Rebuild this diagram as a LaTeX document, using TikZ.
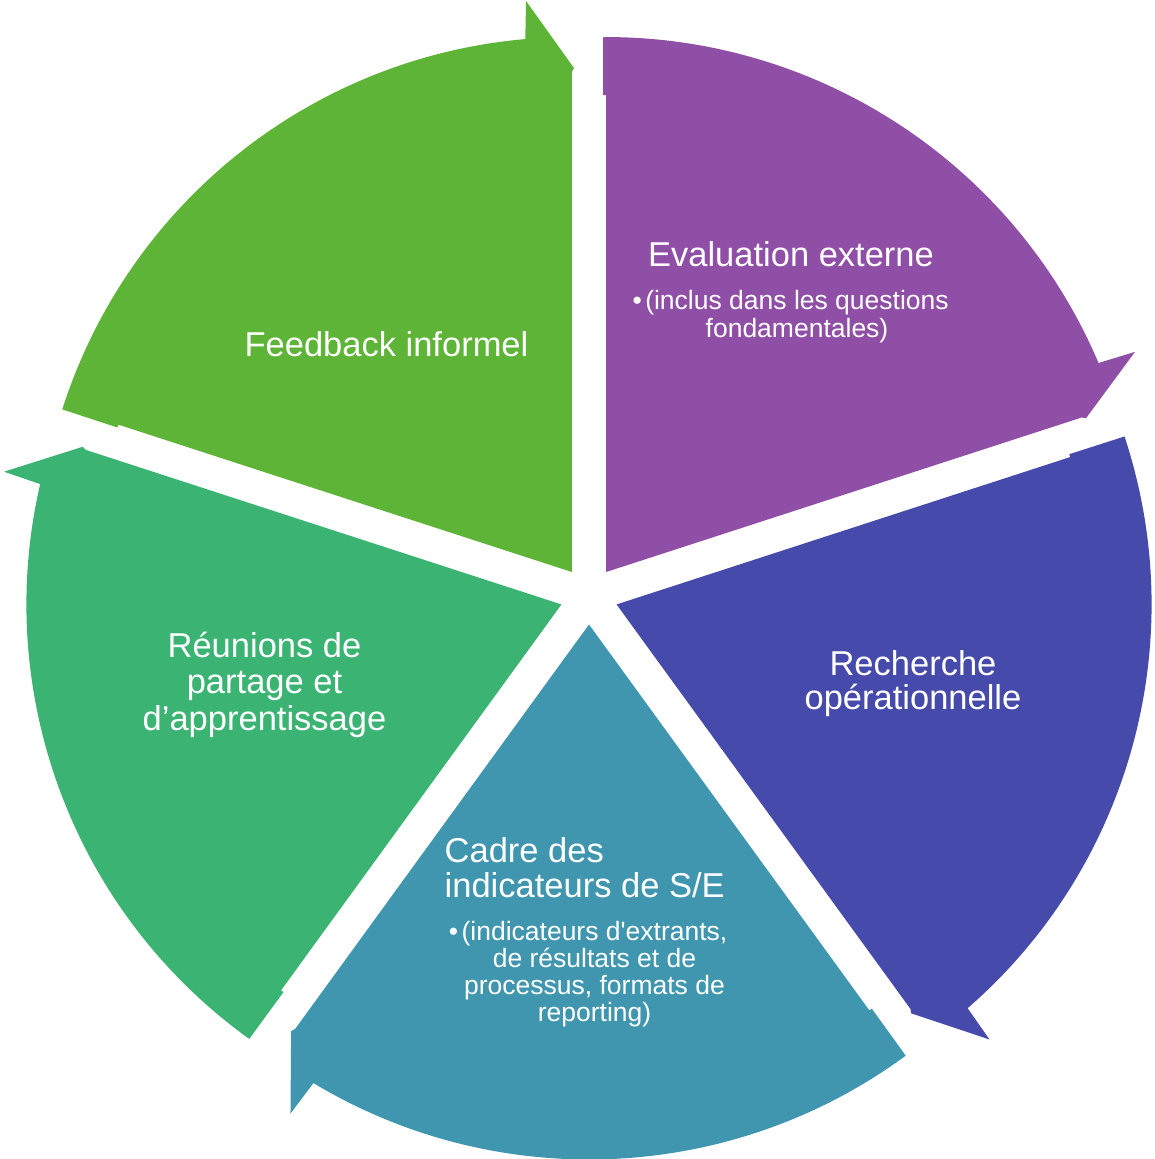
\documentclass[tikz,border=0pt]{standalone}
\usepackage{fontspec}
\setmainfont{Liberation Sans}[Ligatures=TeXOff]
\usetikzlibrary{calc}
\definecolor{cpurple}{HTML}{904FA6}
\definecolor{cindigo}{HTML}{464AAA}
\definecolor{cteal}{HTML}{4096AF}
\definecolor{creun}{HTML}{3BB473}
\definecolor{cfeed}{HTML}{5DB436}
\newcommand{\cycseg}[3]{%
  \coordinate (#1) at ($(C)+(#2:29)$);
  \fill[#3] (#1) -- ($(#1)+(#2+36:477)$) -- ($(#1)+(#2+36:477)+(#2+126:3)$)
    -- ($(#1)+(#2+36.3:535)$) arc[start angle=#2+36.3, end angle=#2-31, radius=535]
    -- ($(#1)+(#2-31.4:573)$) -- ($(#1)+(#2-36:504)+(#2-126:2)$)
    -- ($(#1)+(#2-36:500)$) -- cycle;
}
\newcommand{\bul}{\llap{•\hspace{3.5pt}}}
\tikzset{
  maintxt/.style={text=white, inner sep=0pt, align=center, anchor=north,
    font=\fontsize{34.5}{35.5}\selectfont},
  subtxt/.style={text=white, inner sep=0pt, align=center, anchor=north,
    font=\fontsize{26.5}{27.2}\selectfont}
}
\begin{document}
\begin{tikzpicture}[x=1pt,y=1pt]
\useasboundingbox (0,0) rectangle (1155,1159);
\coordinate (C) at (589,563.5);
\cycseg{apurple}{54}{cpurple}
\cycseg{aindigo}{-18}{cindigo}
\cycseg{ateal}{-90}{cteal}
\cycseg{areun}{-162}{creun}
\cycseg{afeed}{126}{cfeed}

\node[maintxt] (evalT) at (791,917.8) {Evaluation externe};
\node[subtxt] (evalS) at (797,868.5) {\bul(inclus dans les questions\\fondamentales)};
\node[maintxt] (feed) at (386.5,827.8) {Feedback informel};
\node[maintxt, font=\fontsize{34.5}{34.5}\selectfont] (rech) at (913,508.8) {Recherche\\opérationnelle};
\node[maintxt, font=\fontsize{34.5}{36.5}\selectfont] (reun) at (264.5,527.5) {Réunions de\\partage et\\d’apprentissage};
\node[maintxt, align=left, anchor=north west, font=\fontsize{34.5}{35}\selectfont] (cadreT) at (444.5,321.5) {Cadre des\\indicateurs de S/E};
\node[subtxt] (cadreS) at (594.5,238.3) {\bul(indicateurs d'extrants,\\de résultats et de\\processus, formats de\\reporting)};
\end{tikzpicture}
\end{document}
